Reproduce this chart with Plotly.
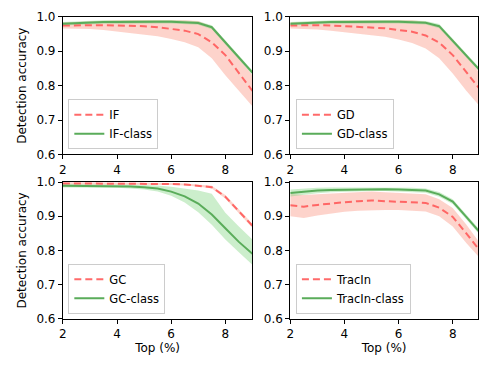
import plotly.graph_objects as go

x = [2, 2.5, 3, 3.5, 4, 4.5, 5, 5.5, 6, 6.5, 7, 7.5, 8, 8.5, 9]

# Top-left: IF
if_mean = [0.975, 0.976, 0.977, 0.976, 0.975, 0.975, 0.973, 0.970, 0.966, 0.960, 0.950, 0.926, 0.889, 0.838, 0.785]
if_lo   = [0.966, 0.966, 0.965, 0.962, 0.958, 0.954, 0.950, 0.944, 0.936, 0.926, 0.912, 0.880, 0.830, 0.785, 0.740]
if_hi   = [0.984, 0.986, 0.988, 0.989, 0.990, 0.991, 0.991, 0.991, 0.990, 0.990, 0.988, 0.972, 0.930, 0.880, 0.830]
ifc_mean = [0.980, 0.982, 0.984, 0.985, 0.985, 0.986, 0.986, 0.986, 0.986, 0.985, 0.982, 0.970, 0.925, 0.882, 0.838]
ifc_lo   = [0.975, 0.977, 0.979, 0.980, 0.980, 0.981, 0.981, 0.981, 0.981, 0.980, 0.977, 0.964, 0.919, 0.876, 0.832]
ifc_hi   = [0.985, 0.987, 0.989, 0.990, 0.990, 0.991, 0.991, 0.991, 0.991, 0.990, 0.987, 0.976, 0.931, 0.888, 0.844]

# Top-right: GD
gd_mean = [0.975, 0.976, 0.976, 0.975, 0.973, 0.971, 0.969, 0.967, 0.962, 0.957, 0.946, 0.925, 0.889, 0.840, 0.790]
gd_lo   = [0.966, 0.965, 0.963, 0.960, 0.956, 0.952, 0.948, 0.942, 0.934, 0.924, 0.908, 0.880, 0.835, 0.785, 0.740]
gd_hi   = [0.984, 0.986, 0.988, 0.989, 0.990, 0.990, 0.990, 0.991, 0.990, 0.990, 0.986, 0.970, 0.935, 0.890, 0.835]
gdc_mean = [0.980, 0.982, 0.984, 0.985, 0.985, 0.986, 0.986, 0.986, 0.986, 0.985, 0.983, 0.973, 0.930, 0.888, 0.845]
gdc_lo   = [0.975, 0.977, 0.979, 0.980, 0.980, 0.981, 0.981, 0.981, 0.981, 0.980, 0.978, 0.967, 0.924, 0.882, 0.839]
gdc_hi   = [0.985, 0.987, 0.989, 0.990, 0.990, 0.991, 0.991, 0.991, 0.991, 0.990, 0.988, 0.979, 0.936, 0.894, 0.851]

# Bottom-left: GC
gc_mean = [0.996, 0.996, 0.996, 0.996, 0.996, 0.996, 0.996, 0.995, 0.994, 0.993, 0.990, 0.985, 0.957, 0.915, 0.872]
gc_lo   = [0.993, 0.993, 0.993, 0.993, 0.993, 0.993, 0.993, 0.992, 0.991, 0.990, 0.987, 0.981, 0.952, 0.909, 0.866]
gc_hi   = [0.999, 0.999, 0.999, 0.999, 0.999, 0.999, 0.999, 0.998, 0.997, 0.996, 0.993, 0.989, 0.962, 0.921, 0.878]
gcc_mean = [0.989, 0.989, 0.989, 0.989, 0.988, 0.987, 0.985, 0.981, 0.972, 0.958, 0.937, 0.905, 0.865, 0.825, 0.790]
gcc_lo   = [0.984, 0.984, 0.984, 0.984, 0.983, 0.981, 0.978, 0.972, 0.960, 0.940, 0.912, 0.875, 0.832, 0.795, 0.758]
gcc_hi   = [0.994, 0.994, 0.994, 0.994, 0.993, 0.992, 0.991, 0.990, 0.986, 0.981, 0.975, 0.966, 0.910, 0.870, 0.832]

# Bottom-right: TracIn
tr_mean = [0.932, 0.928, 0.933, 0.938, 0.941, 0.944, 0.946, 0.944, 0.942, 0.941, 0.939, 0.925, 0.898, 0.850, 0.800]
tr_lo   = [0.900, 0.895, 0.902, 0.908, 0.913, 0.916, 0.918, 0.918, 0.918, 0.917, 0.914, 0.900, 0.870, 0.822, 0.778]
tr_hi   = [0.965, 0.962, 0.964, 0.966, 0.968, 0.970, 0.972, 0.970, 0.968, 0.966, 0.964, 0.950, 0.924, 0.876, 0.822]
trc_mean = [0.968, 0.972, 0.975, 0.977, 0.978, 0.979, 0.979, 0.979, 0.978, 0.977, 0.975, 0.964, 0.943, 0.898, 0.853]
trc_lo   = [0.958, 0.963, 0.967, 0.970, 0.972, 0.973, 0.974, 0.974, 0.973, 0.972, 0.969, 0.957, 0.936, 0.891, 0.846]
trc_hi   = [0.978, 0.981, 0.983, 0.984, 0.984, 0.985, 0.985, 0.985, 0.984, 0.983, 0.981, 0.971, 0.950, 0.905, 0.860]

panels = [
    ("IF", if_mean, if_lo, if_hi, ifc_mean, ifc_lo, ifc_hi),
    ("GD", gd_mean, gd_lo, gd_hi, gdc_mean, gdc_lo, gdc_hi),
    ("GC", gc_mean, gc_lo, gc_hi, gcc_mean, gcc_lo, gcc_hi),
    ("TracIn", tr_mean, tr_lo, tr_hi, trc_mean, trc_lo, trc_hi),
]

W, H = 479, 365
ppu = 27.36
boxes = [
    (59.5, 59.5 + 7 * ppu, 10.3, 153.3),
    (289.3, 479.0, 10.3, 153.3),
    (59.5, 59.5 + 7 * ppu, 182.0, 324.3),
    (289.3, 479.0, 182.0, 324.3),
]
legpos = [(65, 148), (295, 148), (65, 319), (295, 319)]

RED = "rgba(255,90,90,0.9)"
RED_FILL = "rgba(250,150,130,0.42)"
GREEN = "rgb(90,172,90)"
GREEN_FILL = "rgba(120,210,120,0.38)"

fig = go.Figure()
font = dict(family="DejaVu Sans", size=12, color="black")
legfont = dict(family="DejaVu Sans", size=11.5, color="black")

for i, (name, m, lo, hi, cm, clo, chi) in enumerate(panels):
    xa = "x" if i == 0 else f"x{i+1}"
    ya = "y" if i == 0 else f"y{i+1}"
    leg = "legend" if i == 0 else f"legend{i+1}"
    fig.add_trace(go.Scatter(x=x, y=lo, mode="lines", line=dict(width=0), xaxis=xa, yaxis=ya,
                             showlegend=False, hoverinfo="skip", legend=leg))
    fig.add_trace(go.Scatter(x=x, y=hi, mode="lines", line=dict(width=0), fill="tonexty",
                             fillcolor=RED_FILL, xaxis=xa, yaxis=ya, showlegend=False,
                             hoverinfo="skip", legend=leg))
    fig.add_trace(go.Scatter(x=x, y=clo, mode="lines", line=dict(width=0), xaxis=xa, yaxis=ya,
                             showlegend=False, hoverinfo="skip", legend=leg))
    fig.add_trace(go.Scatter(x=x, y=chi, mode="lines", line=dict(width=0), fill="tonexty",
                             fillcolor=GREEN_FILL, xaxis=xa, yaxis=ya, showlegend=False,
                             hoverinfo="skip", legend=leg))
    fig.add_trace(go.Scatter(x=x, y=m, mode="lines", name=name, xaxis=xa, yaxis=ya, legend=leg,
                             line=dict(color=RED, width=2, dash="7px,4px")))
    fig.add_trace(go.Scatter(x=x, y=cm, mode="lines", name=name + "-class", xaxis=xa, yaxis=ya,
                             legend=leg, line=dict(color=GREEN, width=2)))

layout = dict(
    width=W, height=H, margin=dict(l=0, r=0, t=0, b=0),
    paper_bgcolor="white", plot_bgcolor="white", font=font,
)
for i, (l, r, t, b) in enumerate(boxes):
    xk = "xaxis" if i == 0 else f"xaxis{i+1}"
    yk = "yaxis" if i == 0 else f"yaxis{i+1}"
    xdom = [l / W, min(r / W, 1.0)]
    ydom = [(H - b) / H, (H - t) / H]
    xmax = 2 + (min(r, W) - l) / ppu
    layout[xk] = dict(
        domain=xdom, range=[2, xmax], anchor="y" if i == 0 else f"y{i+1}",
        tickvals=[2, 4, 6, 8], ticks="outside", ticklen=4, tickcolor="black",
        showline=True, linecolor="black", linewidth=1, mirror=True,
        showgrid=False, zeroline=False, tickfont=font,
        title=dict(text="Top (%)", font=font, standoff=2) if i >= 2 else None,
    )
    layout[yk] = dict(
        domain=ydom, range=[0.6, 1.0], anchor="x" if i == 0 else f"x{i+1}",
        tickvals=[0.6, 0.7, 0.8, 0.9, 1.0], ticktext=["0.6", "0.7", "0.8", "0.9", "1.0"],
        ticks="outside", ticklen=4, tickcolor="black",
        showline=True, linecolor="black", linewidth=1, mirror=True,
        showgrid=False, zeroline=False, tickfont=font,
        title=dict(text="Detection accuracy", font=font, standoff=7) if i % 2 == 0 else None,
    )
    lk = "legend" if i == 0 else f"legend{i+1}"
    lx, ly = legpos[i]
    layout[lk] = dict(
        x=lx / W, y=(H - ly) / H, xanchor="left", yanchor="bottom",
        bgcolor="rgba(255,255,255,0.8)", bordercolor="#cccccc", borderwidth=1,
        font=legfont, tracegroupgap=0, itemwidth=30, traceorder="normal",
    )

fig.update_layout(**layout)
fig.write_html("out.html")
